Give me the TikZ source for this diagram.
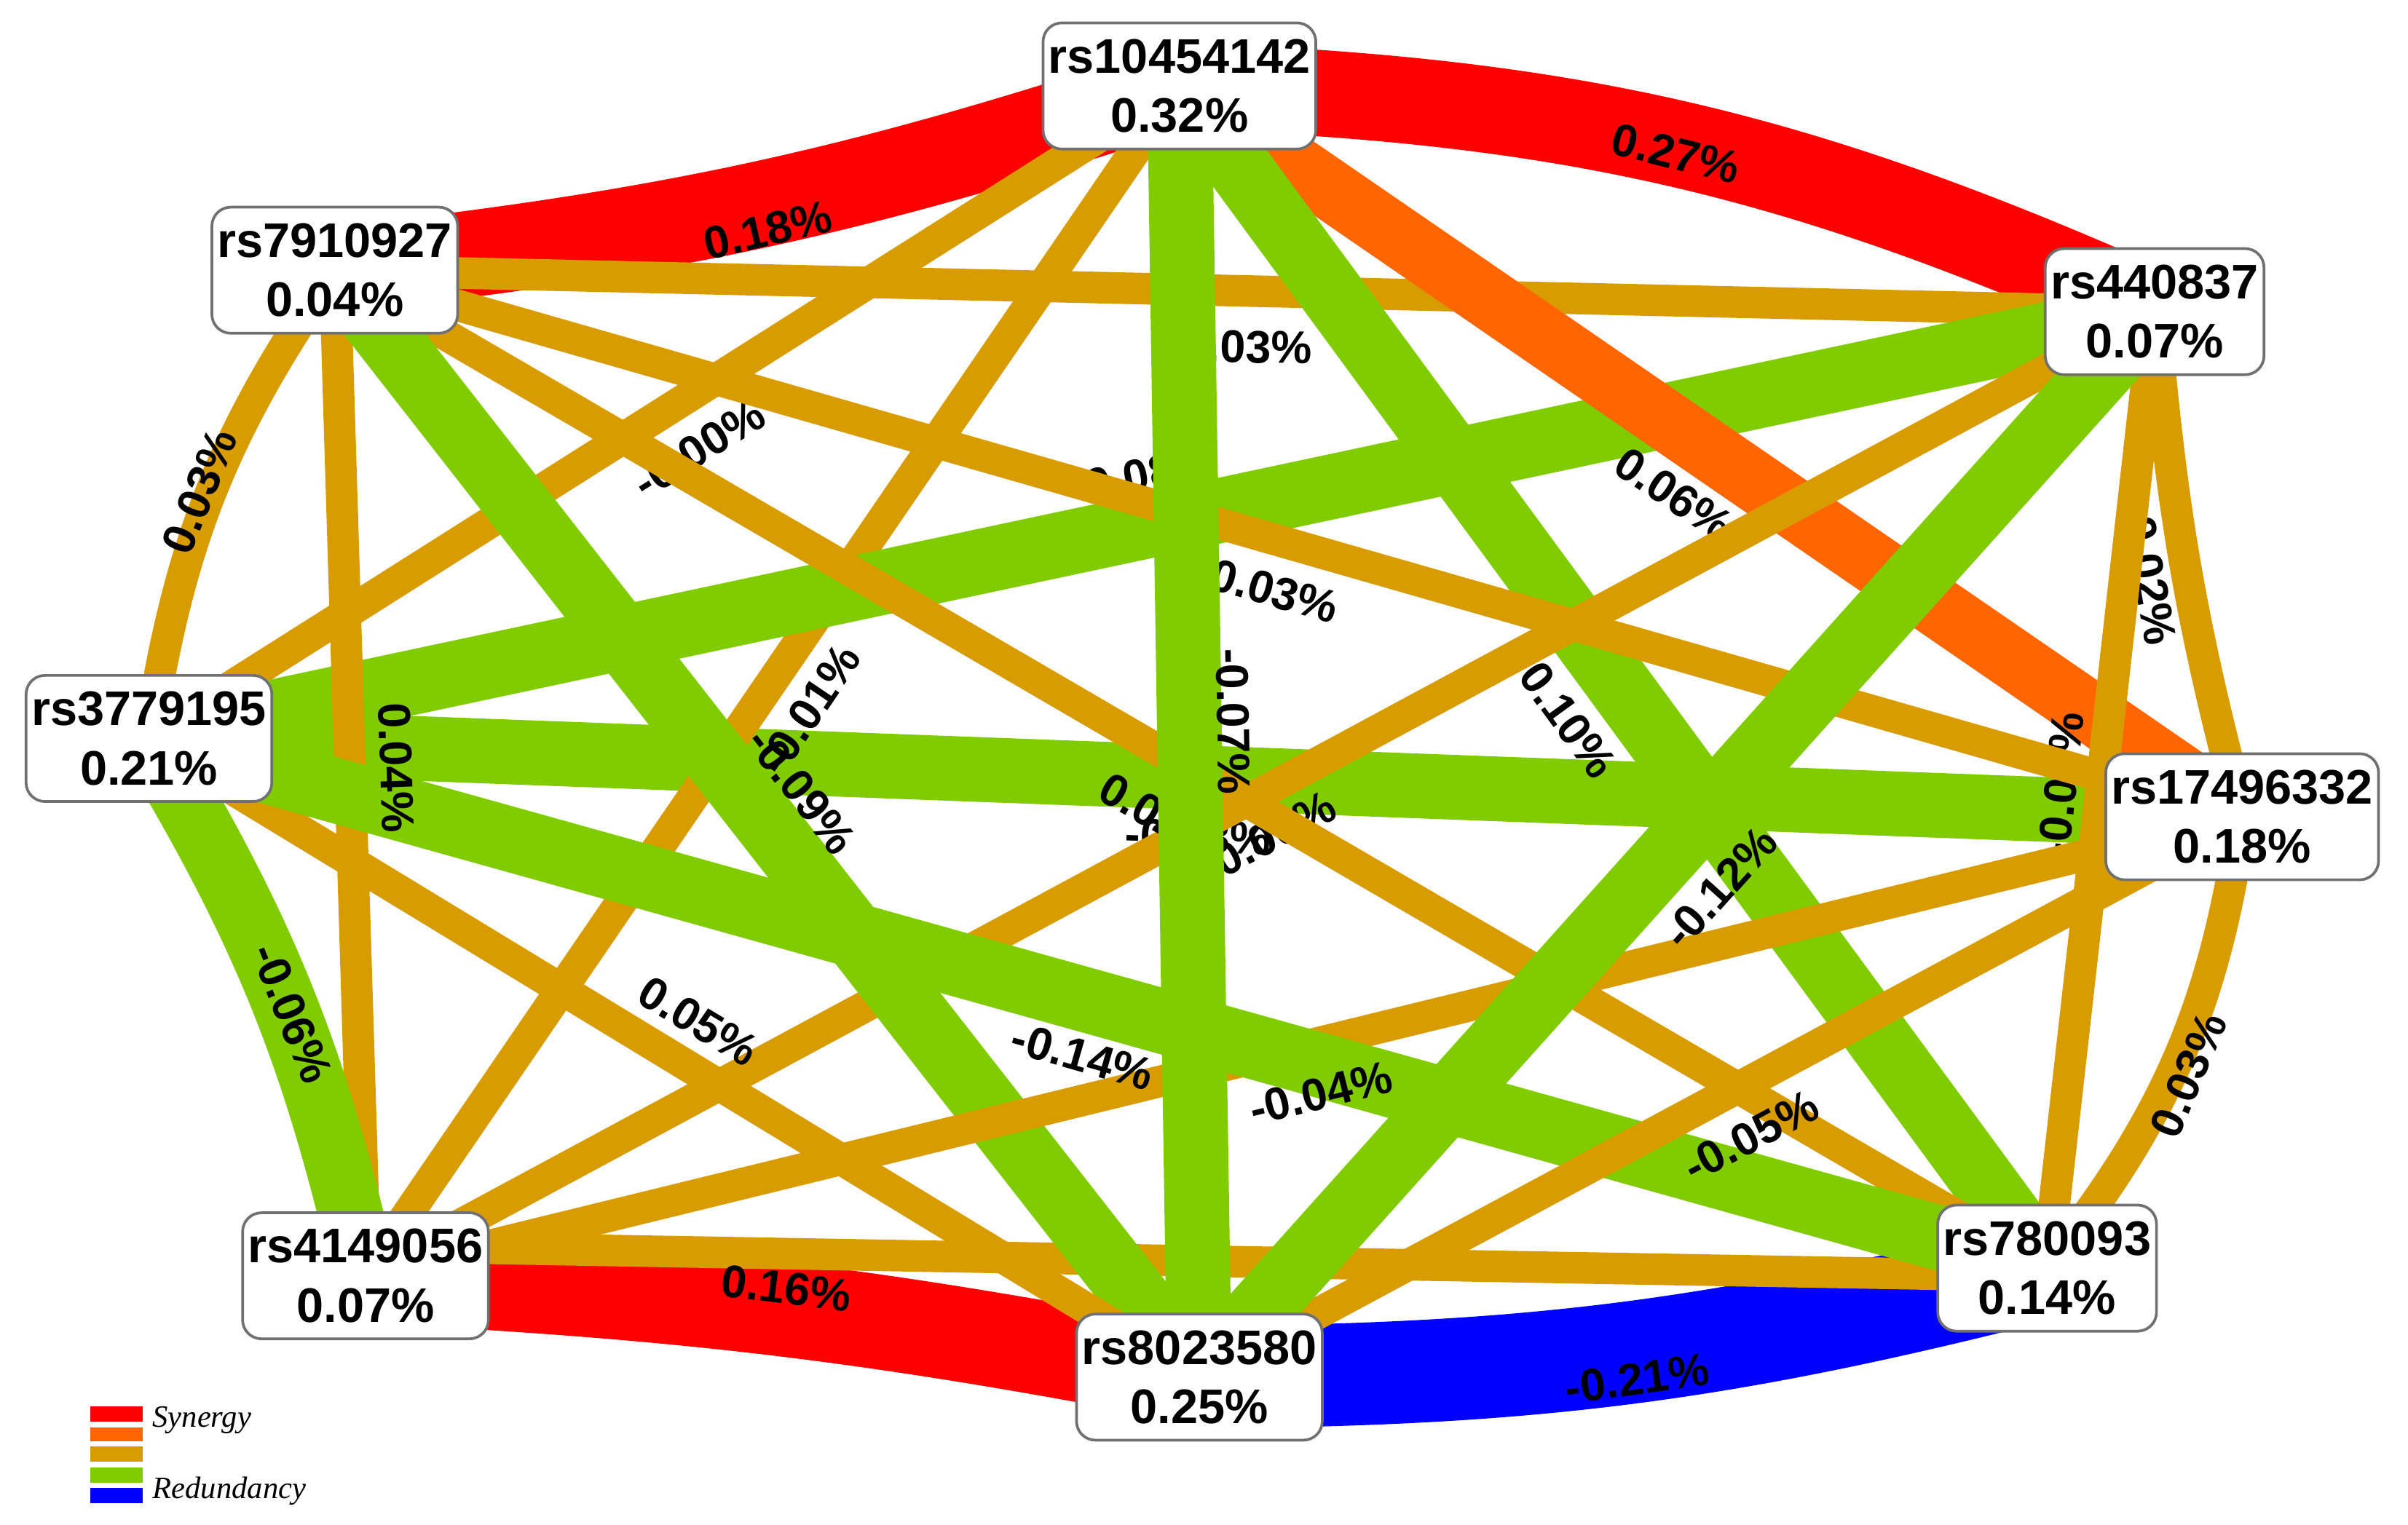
\documentclass[tikz,border=0pt]{standalone}
\usepackage{fontspec}
\setmainfont{Liberation Sans}
\newfontfamily\legfont{Liberation Serif}
\usetikzlibrary{backgrounds}
\definecolor{synred}{HTML}{FF0000}
\definecolor{synorange}{HTML}{FF6600}
\definecolor{weakgold}{HTML}{D89C00}
\definecolor{redgreen}{HTML}{80CC00}
\definecolor{redblue}{HTML}{0000FF}
\definecolor{boxgray}{HTML}{707070}
\tikzset{
  snp/.style={draw=boxgray, line width=1pt, fill=white, rounded corners=7pt,
    align=center, inner xsep=2pt, inner ysep=6pt,
    font=\fontsize{18}{22}\selectfont\bfseries},
  lbl/.style={inner sep=0pt, font=\fontsize{17}{17}\selectfont\bfseries},
  syn/.style={draw=synred, line width=32pt},
  synmid/.style={draw=synorange, line width=22.5pt},
  weak/.style={draw=weakgold, line width=11.7pt},
  redun/.style={draw=redgreen, line width=24pt},
  loss/.style={draw=redblue, line width=38pt},
  legend/.style={anchor=west, inner sep=0pt, font=\legfont\itshape\fontsize{11.5}{11.5}\selectfont}
}

\begin{document}
\begin{tikzpicture}[x=0.02cm, y=-0.02cm]
\useasboundingbox (0,0) rectangle (1568,993);

\node[snp] (A) at (768,56) {rs10454142\\0.32\%};
\node[snp] (B) at (218,176) {rs7910927\\0.04\%};
\node[snp] (C) at (1403,203) {rs440837\\0.07\%};
\node[snp] (D) at (97,481) {rs3779195\\0.21\%};
\node[snp] (E) at (1460,532) {rs17496332\\0.18\%};
\node[snp] (F) at (238,831) {rs4149056\\0.07\%};
\node[snp] (G) at (781,897) {rs8023580\\0.25\%};
\node[snp] (H) at (1333,826) {rs780093\\0.14\%};

\begin{scope}[on background layer]
% outer ring
\draw[syn] (A.center) to[bend left=6] (B.center);
\draw[syn] (A.center) to[bend left=11] (C.center);
\draw[syn, line width=35pt] (F.center) to[bend left=4] (G.center);
\draw[loss] (H.center) to[bend left=7] (G.center);
\draw[weak] ([yshift=11pt]F.center) -- ([yshift=-3pt]H.center);

% edges whose labels get covered
\draw[redun] (D.center) -- (E.center);
\node[lbl, rotate=-2] (lDE) at (780,545) {-0.08\%};
\draw[weak] (A.center) -- (D.center);
\node[lbl, rotate=32] (lAD) at (455,292) {-0.00\%};
\draw[weak] (A.center) -- (F.center);
\draw[weak] (B.center) -- (C.center);
\node[lbl, rotate=-1] (lBC) at (812,226) {0.03\%};
\draw[redun] (C.center) -- (D.center);
\node[lbl, rotate=12] (lCD) at (744,309) {-0.08\%};
\draw[weak] (B.center) to[bend right=13] (D.center);
\draw[weak] (B.center) -- (F.center);
\draw[weak] (C.center) to[bend right=5] (E.center);
\node[lbl, rotate=-80] (lCE) at (1400,378) {0.02\%};
\draw[weak] (E.center) to[bend left=15] (H.center);
\draw[redun] (D.center) to[bend left=9] (F.center);
\draw[synmid] (A.center) -- (E.center);
\node[lbl, rotate=-34] (lAE) at (1090,322) {0.06\%};
\draw[redun] (A.center) -- (H.center);
\node[lbl, rotate=-54] (lAH) at (1018,465) {-0.10\%};
\draw[weak] (C.center) -- (H.center);
\node[lbl, rotate=84] (lCH) at (1342,511) {-0.01\%};
\draw[weak] (B.center) -- (E.center);
\node[lbl, rotate=-16] (lBE) at (830,385) {0.03\%};
\draw[weak] (C.center) -- (F.center);
\node[lbl, rotate=28] (lCF) at (830,543) {0.00\%};
\draw[weak] (B.center) -- (H.center);
\node[lbl, rotate=-30] (lBH) at (755,532) {0.02\%};
\draw[redun] (B.center) -- (G.center);
\draw[weak] (D.center) -- (G.center);
\draw[weak] (E.center) -- (F.center);
\draw[redun] (D.center) -- (H.center);
\draw[weak] (E.center) -- (G.center);
\draw[redun] (C.center) -- (G.center);
\draw[redun] (A.center) -- (G.center);

% labels on top
\node[lbl, rotate=13] (lAB) at (500,150) {0.18\%};
\node[lbl, rotate=-14] (lAC) at (1091,100) {0.27\%};
\node[lbl, rotate=-7] (lFG) at (512,839) {0.16\%};
\node[lbl, rotate=8] (lGH) at (1066,898) {-0.21\%};
\node[lbl, rotate=56] (lAF) at (527,462) {-0.01\%};
\node[lbl, rotate=68] (lBD) at (130,320) {0.03\%};
\node[lbl, rotate=-88] (lBF) at (258,500) {0.04\%};
\node[lbl, rotate=67] (lEH) at (1425,700) {0.03\%};
\node[lbl, rotate=-68] (lDF) at (190,660) {-0.06\%};
\node[lbl, rotate=-52] (lBG) at (522,515) {-0.09\%};
\node[lbl, rotate=-31] (lDG) at (455,665) {0.05\%};
\node[lbl, rotate=14] (lEF) at (860,712) {-0.04\%};
\node[lbl, rotate=-16] (lDH) at (705,688) {-0.14\%};
\node[lbl, rotate=28] (lEG) at (1140,740) {-0.05\%};
\node[lbl, rotate=48] (lCG) at (1120,578) {-0.12\%};
\node[lbl, rotate=-89] (lAG) at (803,470) {-0.07\%};
\end{scope}

% legend
\fill[synred] (59,916) rectangle (93,926);
\fill[synorange] (59,930) rectangle (93,939);
\fill[weakgold] (59,942) rectangle (93,952);
\fill[redgreen] (59,956) rectangle (93,966);
\fill[redblue] (59,969) rectangle (93,979);
\node[legend] (synkey) at (99,925) {Synergy};
\node[legend] (redkey) at (99,971) {Redundancy};
\end{tikzpicture}
\end{document}
